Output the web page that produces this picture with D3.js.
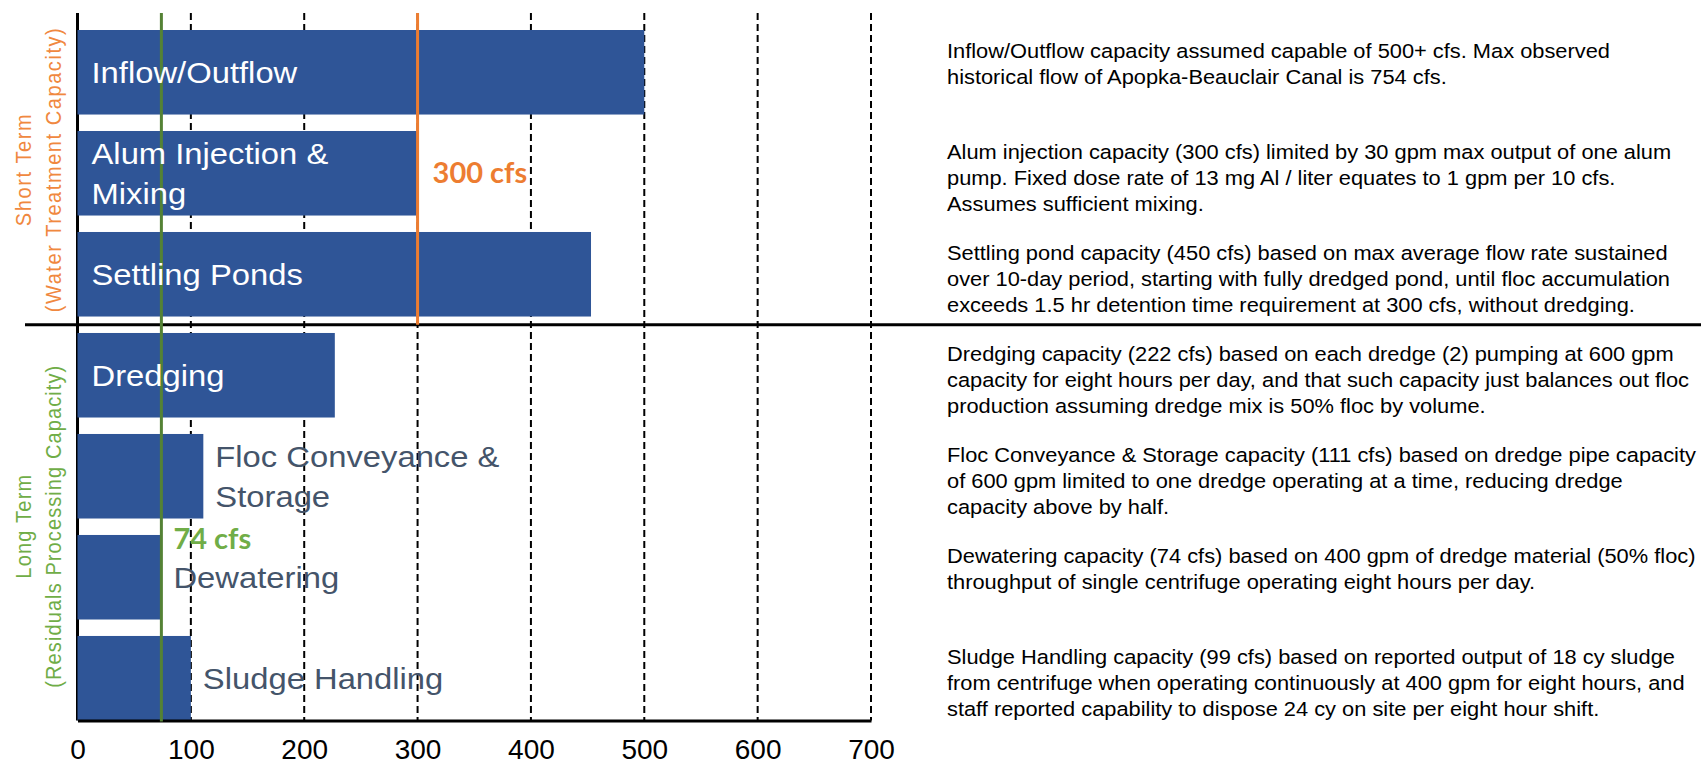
<!DOCTYPE html>
<html>
<head>
<meta charset="utf-8">
<script src="https://cdn.jsdelivr.net/npm/d3@7"></script>
<style>
  html, body { margin: 0; padding: 0; background: #fff; }
  svg { display: block; }
</style>
</head>
<body>
<svg id="chart" width="1701" height="765"></svg>
<script>
// ---------------- data ----------------
const categories = [
  "Inflow/Outflow",
  "Alum Injection & Mixing",
  "Settling Ponds",
  "Dredging",
  "Floc Conveyance & Storage",
  "Dewatering",
  "Sludge Handling"
];
const capacities = [500, 300, 453, 227, 111, 74, 100];
const barLabelLines = [
  ["Inflow/Outflow"],
  ["Alum Injection &", "Mixing"],
  ["Settling Ponds"],
  ["Dredging"],
  ["Floc Conveyance &", "Storage"],
  ["Dewatering"],
  ["Sludge Handling"]
];
const labelInsideBar = [true, true, true, true, false, false, false];
const termGroups = ["Short Term", "Long Term"];
const termSubtitles = ["(Water Treatment Capacity)", "(Residuals Processing Capacity)"];
const termMembers = [
  ["Inflow/Outflow", "Alum Injection & Mixing", "Settling Ponds"],
  ["Dredging", "Floc Conveyance & Storage", "Dewatering", "Sludge Handling"]
];
const limitValues = [300, 74];
const limitLabels = ["300 cfs", "74 cfs"];
const xTickValues = [0, 100, 200, 300, 400, 500, 600, 700];
const notes = [
  ["Inflow/Outflow capacity assumed capable of 500+ cfs. Max observed",
   "historical flow of Apopka-Beauclair Canal is 754 cfs."],
  ["Alum injection capacity (300 cfs) limited by 30 gpm max output of one alum",
   "pump. Fixed dose rate of 13 mg Al / liter equates to 1 gpm per 10 cfs.",
   "Assumes sufficient mixing."],
  ["Settling pond capacity (450 cfs) based on max average flow rate sustained",
   "over 10-day period, starting with fully dredged pond, until floc accumulation",
   "exceeds 1.5 hr detention time requirement at 300 cfs, without dredging."],
  ["Dredging capacity (222 cfs) based on each dredge (2) pumping at 600 gpm",
   "capacity for eight hours per day, and that such capacity just balances out floc",
   "production assuming dredge mix is 50% floc by volume."],
  ["Floc Conveyance & Storage capacity (111 cfs) based on dredge pipe capacity",
   "of 600 gpm limited to one dredge operating at a time, reducing dredge",
   "capacity above by half."],
  ["Dewatering capacity (74 cfs) based on 400 gpm of dredge material (50% floc)",
   "throughput of single centrifuge operating eight hours per day."],
  ["Sludge Handling capacity (99 cfs) based on reported output of 18 cy sludge",
   "from centrifuge when operating continuously at 400 gpm for eight hours, and",
   "staff reported capability to dispose 24 cy on site per eight hour shift."]
];

// ---------------- layout ----------------
const svg = d3.select("#chart");
const plotTop = 13, plotBottom = 720.5;
const x = d3.scaleLinear().domain([0, 700]).range([77.5, 871]);
const y = d3.scaleBand().domain(categories).range([30, 720.5]).paddingInner(0.163).paddingOuter(0);
const bw = y.bandwidth();
const SANS = "'Liberation Sans', Arial, sans-serif";
const BOLD = "Lato, 'Liberation Sans', sans-serif";
const stretchBar = 1.13, stretchNote = 1.12;
const colors = {
  bar: "#2F5597", outLabel: "#44546A",
  orangeLine: "#ED7D31", orangeText: "#ED7D31", orangeSoft: "#F0883F",
  greenLine: "#548235", greenText: "#70AD47"
};

function stretchedText(g, str, tx, ty, sx, attrs) {
  const t = g.append("text")
    .attr("transform", `translate(${tx},${ty}) scale(${sx},1)`)
    .text(str);
  Object.entries(attrs).forEach(([k, v]) => t.attr(k, v));
  return t;
}

// gridlines (dashed)
svg.append("g").selectAll("line")
  .data(xTickValues.filter(d => d > 0))
  .join("line")
  .attr("x1", d => x(d)).attr("x2", d => x(d))
  .attr("y1", plotTop).attr("y2", plotBottom)
  .attr("stroke", "#000").attr("stroke-width", 2)
  .attr("stroke-dasharray", "7,4");

// left axis line
svg.append("line")
  .attr("x1", x(0)).attr("x2", x(0)).attr("y1", plotTop).attr("y2", plotBottom)
  .attr("stroke", "#000").attr("stroke-width", 3);

// bars
svg.append("g").selectAll("rect")
  .data(categories)
  .join("rect")
  .attr("x", x(0))
  .attr("y", d => y(d))
  .attr("width", (d, i) => x(capacities[i]) - x(0))
  .attr("height", bw)
  .attr("fill", colors.bar);

// separator between short and long term
const lastShort = termMembers[0][termMembers[0].length - 1];
const firstLong = termMembers[1][0];
const sepY = (y(lastShort) + bw + y(firstLong)) / 2;
svg.append("line")
  .attr("x1", 25).attr("x2", 1701).attr("y1", sepY).attr("y2", sepY)
  .attr("stroke", "#000").attr("stroke-width", 3);

// bottom axis
const xAxis = d3.axisBottom(x).tickValues(xTickValues).tickSize(0).tickPadding(0);
const axisG = svg.append("g").attr("transform", `translate(0,${plotBottom})`).call(xAxis);
axisG.select(".domain").attr("stroke", "#000").attr("stroke-width", 3);
axisG.selectAll(".tick text")
  .attr("y", 0).attr("dy", 0)
  .attr("transform", "translate(0,38)")
  .attr("font-family", SANS).attr("font-size", 28).attr("fill", "#000");

// limit lines
svg.append("line")
  .attr("x1", x(limitValues[0])).attr("x2", x(limitValues[0]))
  .attr("y1", plotTop).attr("y2", sepY)
  .attr("stroke", colors.orangeLine).attr("stroke-width", 3);
svg.append("line")
  .attr("x1", x(limitValues[1])).attr("x2", x(limitValues[1]))
  .attr("y1", plotTop).attr("y2", plotBottom + 1)
  .attr("stroke", colors.greenLine).attr("stroke-width", 3);

// bar labels
const labelG = svg.append("g");
categories.forEach((c, i) => {
  const lines = barLabelLines[i];
  const inside = labelInsideBar[i];
  const cx = inside ? x(0) + 14 : x(capacities[i]) + 12;
  const cy = y(c) + bw / 2;
  lines.forEach((ln, j) => {
    const by = cy + (j - (lines.length - 1) / 2) * 40 + 10.5;
    stretchedText(labelG, ln, cx, by, stretchBar, {
      "font-family": SANS, "font-size": 29,
      fill: inside ? "#fff" : colors.outLabel
    });
  });
});

// limit labels
stretchedText(svg, limitLabels[0], x(limitValues[0]) + 15, 183, 1, {
  "font-family": BOLD, "font-weight": 700, "font-size": 29, fill: colors.orangeText
});
stretchedText(svg, limitLabels[1], x(limitValues[1]) + 12, 549, 1, {
  "font-family": BOLD, "font-weight": 700, "font-size": 29, fill: colors.greenText
});

// group titles (rotated)
const groupColors = [colors.orangeSoft, colors.greenText];
const titleLens = [[112, 284], [104, 322]];
termGroups.forEach((g, k) => {
  const mem = termMembers[k];
  const cy = (y(mem[0]) + y(mem[mem.length - 1]) + bw) / 2 + (k === 0 ? -3 : 0);
  [[g, 31], [termSubtitles[k], 61]].forEach(([str, bx], j) => {
    svg.append("text")
      .attr("transform", `translate(${bx},${cy}) scale(1.12,1) rotate(-90)`)
      .attr("text-anchor", "middle")
      .attr("font-family", SANS).attr("font-size", 20)
      .attr("textLength", titleLens[k][j]).attr("lengthAdjust", "spacing")
      .attr("fill", groupColors[k])
      .text(str);
  });
});

// notes on the right
const noteG = svg.append("g");
categories.forEach((c, i) => {
  const firstBase = y(c) + bw / 2 - 14;
  notes[i].forEach((ln, j) => {
    stretchedText(noteG, ln, 947, firstBase + j * 26, stretchNote, {
      "font-family": SANS, "font-size": 19.5, fill: "#000"
    });
  });
});
</script>
</body>
</html>
